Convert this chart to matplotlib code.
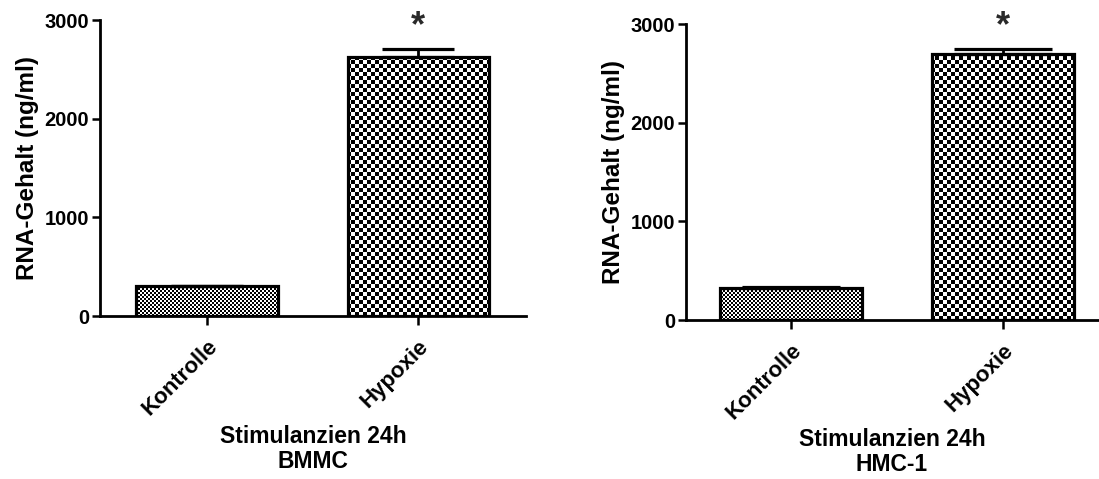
import numpy as np
import matplotlib
matplotlib.use("Agg")
import matplotlib.pyplot as plt

plt.rcParams['font.family'] = ['Liberation Sans', 'DejaVu Sans']
plt.rcParams['font.weight'] = 'bold'

categories = ["Kontrolle", "Hypoxie"]
bmmc_values = [300, 2620]
bmmc_errors = [0, 90]
hmc1_values = [320, 2700]
hmc1_errors = [15, 50]
y_ticks = [0, 1000, 2000, 3000]
y_label = "RNA-Gehalt (ng/ml)"
x_label_bmmc = "Stimulanzien 24h\nBMMC"
x_label_hmc1 = "Stimulanzien 24h\nHMC-1"
significance = ["", "*"]

W, H = 1099, 479
fig = plt.figure(figsize=(W / 100, H / 100), dpi=100)


def axes_px(l, r, t, b):
    a = fig.add_axes([l / W, 1 - b / H, (r - l) / W, (b - t) / H])
    a.patch.set_visible(False)
    return a


ax1 = axes_px(100, 526, 20, 316)
ax2 = axes_px(686, 1098, 24, 320)

cell_sizes = [2, 4]
bar_width = 0.67


def checker_fill(bar, cell):
    fig.canvas.draw()
    bb = bar.get_window_extent()
    x0 = int(np.floor(bb.x0))
    y0 = int(np.floor(bb.y0))
    wpx = int(np.ceil(bb.x1)) - x0 + 1
    hpx = int(np.ceil(bb.y1)) - y0 + 1
    jj, ii = np.meshgrid(np.arange(wpx), np.arange(hpx))
    arr = ((ii // cell + jj // cell) % 2).astype(float)
    im = fig.figimage(arr, xo=x0, yo=y0, origin='lower', cmap='gray',
                      vmin=0, vmax=1, zorder=-1)
    im.set_clip_path(bar)


def draw_panel(ax, values, errors, xlabel, xlim, capsize, labelpad):
    x = np.arange(len(categories))
    ax.set_xlim(*xlim)
    ax.set_ylim(0, 3000)
    bars = ax.bar(x, values, width=bar_width, facecolor='none', edgecolor='black',
                  linewidth=2.3, zorder=2)
    ax.errorbar(x, values, yerr=[np.zeros(len(values)), errors], fmt='none',
                ecolor='black', elinewidth=2, capsize=capsize, capthick=2.3, zorder=3)
    for xi, v, e, s in zip(x, values, errors, significance):
        if s:
            ax.annotate(s, (xi, v + e), xytext=(0, 3), textcoords='offset points',
                        ha='center', va='bottom', fontsize=26, fontweight='bold',
                        color='#2a2a2a')
    ax.set_yticks(y_ticks)
    ax.set_xticks(x)
    ax.set_xticklabels(categories, rotation=45, ha='right', rotation_mode='anchor',
                       fontsize=16, fontweight='bold')
    ax.tick_params(axis='y', labelsize=14.5, width=1.8, length=6, pad=2)
    ax.tick_params(axis='x', width=1.8, length=6.5, pad=8)
    for lbl in ax.get_yticklabels():
        lbl.set_fontweight('bold')
    for sp in ['top', 'right']:
        ax.spines[sp].set_visible(False)
    for sp in ['left', 'bottom']:
        ax.spines[sp].set_linewidth(2.0)
    ax.set_ylabel(y_label, fontsize=17.5, fontweight='bold', labelpad=4)
    ax.set_xlabel(xlabel, fontsize=16.5, fontweight='bold', labelpad=labelpad,
                  linespacing=1.1)
    ax.set_xlim(*xlim)
    ax.set_ylim(0, 3000)
    return bars


bars1 = draw_panel(ax1, bmmc_values, bmmc_errors, x_label_bmmc, (-0.507, 1.51), 26, 4)
bars2 = draw_panel(ax2, hmc1_values, hmc1_errors, x_label_hmc1, (-0.495, 1.448), 35, 3)
for bars in (bars1, bars2):
    for b, c in zip(bars, cell_sizes):
        checker_fill(b, c)

fig.savefig("out.png", dpi=100)
